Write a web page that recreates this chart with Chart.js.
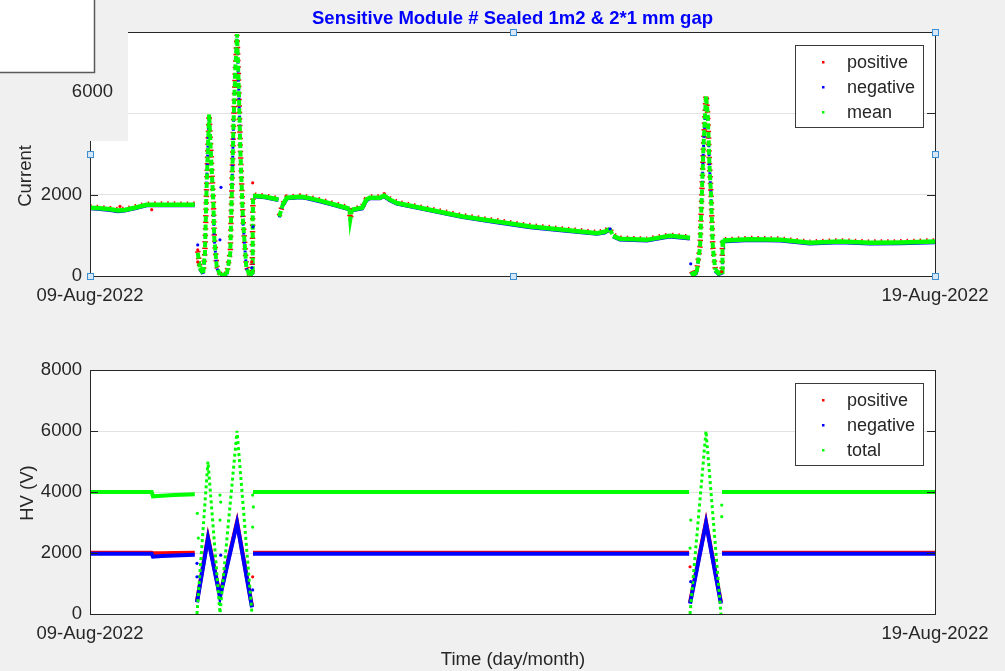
<!DOCTYPE html>
<html>
<head>
<meta charset="utf-8">
<script src="https://cdn.jsdelivr.net/npm/chart.js@4/dist/chart.umd.min.js"></script>
<style>
  html, body { margin: 0; padding: 0; background: #f0f0f0; width: 1005px; height: 671px; overflow: hidden; }
  canvas { position: absolute; left: 0; }
  #cur { top: 0; }
  #hv { top: 330px; }
</style>
</head>
<body>
<canvas id="cur" width="1005" height="330"></canvas>
<canvas id="hv" width="1005" height="341"></canvas>
<script>
// ---- time axis: days since 09-Aug-2022 00:00 ----
const dateTickPos = [0, 10];
const dateTicks = ['09-Aug-2022', '19-Aug-2022'];
const curTicks = [0, 2000, 4000, 6000];
const hvTicks = [0, 2000, 4000, 6000, 8000];

// ---- module current ----
const tCur = [
  0.00, 0.12, 0.24, 0.33, 0.41, 0.53, 0.67, 0.83, 1.01, 1.24, 1.25,
  1.275, 1.30, 1.34, 1.36, 1.38, 1.40, 1.41, 1.43, 1.46, 1.47, 1.50, 1.54, 1.58,
  1.62, 1.66, 1.68, 1.70, 1.72, 1.74, 1.76, 1.78, 1.81, 1.85, 1.89, 1.92, 1.925,
  1.93, 2.07, 2.23, 2.235, 2.24, 2.28, 2.33, 2.49, 2.57, 2.72, 2.90, 3.07, 3.08,
  3.10, 3.22, 3.27, 3.31, 3.43, 3.48, 3.55, 3.63, 4.02, 4.41, 4.81, 5.21, 5.60,
  6.00, 6.09, 6.15, 6.19, 6.27, 6.59, 6.86, 7.10, 7.105,
  7.12, 7.14, 7.18, 7.22, 7.24, 7.26, 7.28, 7.29, 7.31, 7.33, 7.35, 7.37, 7.40,
  7.44, 7.48, 7.485,
  7.49, 7.81, 8.17, 8.52, 8.88, 9.23, 9.59, 10.0
];
const curMean = [
  1680, 1665, 1640, 1610, 1625, 1680, 1750, 1755, 1755, 1750, null,
  570, 200, 75, 570, 2200, 3430, 3975, 3040, 1800, 960, 220, 25, 25,
  50, 570, 2200, 3850, 5090, 5950, 4670, 3040, 1380, 220, 0, 100, 1380,
  1975, 1950, 1880, null, 1460, 1750, 1926, 1950, 1926, 1852, 1753, 1654, 1383,
  1630, 1679, 1877, 1926, 1926, 1975, 1877, 1795, 1630, 1465, 1341, 1218, 1136,
  1054, 1086, 1160, 988, 914, 889, 988, 938, null,
  105, 25, 100, 720, 1960, 3190, 4020, 4430, 4020, 2790, 1960, 720, 150,
  65, 100, 889,
  870, 905, 889, 815, 847, 815, 822, 847
];
const curPos = [
  1700, 1680, 1655, 1625, 1640, 1695, 1765, 1770, 1768, 1765, null,
  610, 230, 90, 600, 2160, 3400, 3960, 3080, 1840, 1000, 240, 40, 35,
  60, 600, 2240, 3820, 5060, 5930, 4700, 3080, 1420, 250, 15, 120, 1400,
  1990, 1965, 1895, null, 1480, 1765, 1940, 1965, 1940, 1868, 1770, 1670, 1400,
  1645, 1695, 1892, 1940, 1942, 1990, 1893, 1812, 1646, 1482, 1358, 1235, 1153,
  1070, 1102, 1176, 1005, 930, 906, 1004, 955, null,
  120, 35, 115, 740, 1990, 3210, 4040, 4450, 4000, 2820, 1990, 750, 170,
  80, 120, 905,
  888, 922, 906, 832, 864, 832, 840, 864
];
const curNeg = [
  1665, 1650, 1625, 1595, 1610, 1665, 1738, 1742, 1742, 1738, null,
  540, 180, 60, 540, 2240, 3460, 3990, 3000, 1760, 930, 200, 15, 15,
  40, 540, 2160, 3880, 5120, 5970, 4640, 3000, 1350, 190, 0, 80, 1360,
  1960, 1935, 1865, null, 1440, 1735, 1912, 1935, 1912, 1836, 1737, 1638, 1366,
  1614, 1663, 1862, 1912, 1910, 1960, 1861, 1778, 1614, 1448, 1324, 1201, 1119,
  1038, 1070, 1144, 972, 898, 872, 972, 921, null,
  90, 15, 85, 700, 1930, 3170, 4000, 4410, 4040, 2760, 1930, 690, 130,
  50, 80, 873,
  852, 888, 872, 798, 830, 798, 805, 830
];
// isolated readings: [day, value]
const curPosOut = [[0.355, 1710], [0.73, 1630], [1.275, 640], [1.275, 345], [1.914, 345], [1.925, 2290], [7.476, 105]];
const curNegOut = [[1.275, 765], [1.538, 890], [1.55, 2180], [1.914, 200], [1.929, 1210], [6.154, 1160], [7.109, 300]];

// ---- high voltage ----
const tHV = [
  0.00, 0.73, 0.745, 0.85, 1.00, 1.24, 1.25,
  1.266, 1.396, 1.538, 1.740, 1.917, 1.922,
  1.929, 4.0, 7.09, 7.095,
  7.101, 7.290, 7.467, 7.473,
  7.479, 10.0
];
const hvTotal = [
  4000, 4000, 3860, 3880, 3900, 3930, null,
  0, 5000, 30, 6000, 0, null,
  4000, 4000, 4000, null,
  0, 6000, 0, null,
  4000, 4000
];
const hvPos = [
  2010, 2010, 1990, 1995, 2000, 2010, null,
  420, 2520, 600, 3020, 260, null,
  2010, 2010, 2010, null,
  380, 3020, 380, null,
  2010, 2010
];
const hvNeg = [
  1975, 1975, 1880, 1900, 1920, 1945, null,
  380, 2480, 560, 2980, 220, null,
  1975, 1975, 1975, null,
  340, 2980, 340, null,
  1975, 1975
];
const hvPosOut = [[7.101, 1550], [1.925, 1220]];
const hvNegOut = [[1.266, 1660], [1.266, 1220], [1.547, 1930], [1.925, 790], [7.109, 1060]];
const hvTotOut = [[1.270, 3300], [1.282, 2490], [1.538, 3900], [1.547, 3670], [1.538, 3080], [1.925, 3900],
                  [1.933, 3510], [1.925, 2850], [7.101, 2160], [7.109, 3080], [7.476, 3570], [7.476, 3190]];

const curLegend = ['positive', 'negative', 'mean'];
const hvLegend = ['positive', 'negative', 'total'];
const RED = '#ff0000', BLUE = '#0000ff', GREEN = '#00ff00', INK = '#262626';
const FAMILY = '"Liberation Sans", Arial, Helvetica, sans-serif';

const pts = (ts, vs) => ts.map((t, i) => ({ x: t, y: vs[i] }));
const pairs = arr => arr.map(([x, y]) => ({ x, y }));

// steep parts of a trace (fast ramps) are drawn broken, like sparse samples
function steep(dash, width) {
  const isSteep = c => {
    const dx = Math.abs(c.p1.x - c.p0.x), dy = Math.abs(c.p1.y - c.p0.y);
    return dy > 6 && dy > 2 * dx;
  };
  return {
    borderDash: c => (isSteep(c) ? dash : undefined),
    borderWidth: c => (isSteep(c) ? width : undefined)
  };
}

function lineSet(label, data, color, width, order, extra) {
  return Object.assign({
    label, data, borderColor: color, backgroundColor: color, borderWidth: width,
    pointRadius: 0, tension: 0, spanGaps: false, order
  }, extra || {});
}
function dotSet(label, data, color) {
  return {
    label, data, showLine: false, pointRadius: 1.6, pointBorderWidth: 0,
    pointBackgroundColor: color, borderColor: color, order: 0
  };
}

// axes box, inner ticks, legend, titles
const frame = {
  id: 'frame',
  beforeDraw(chart) {
    const { ctx, chartArea: a } = chart;
    ctx.save();
    ctx.fillStyle = '#ffffff';
    ctx.fillRect(a.left, a.top, a.right - a.left, a.bottom - a.top);
    ctx.restore();
  },
  afterDraw(chart, args, o) {
    const { ctx, chartArea: a, scales } = chart;
    ctx.save();
    ctx.strokeStyle = INK;
    ctx.lineWidth = 1;
    ctx.strokeRect(a.left + 0.5, a.top + 0.5, a.right - a.left, a.bottom - a.top);
    ctx.beginPath();
    scales.y.ticks.forEach(t => {
      const py = Math.round(scales.y.getPixelForValue(t.value)) + 0.5;
      ctx.moveTo(a.left, py); ctx.lineTo(a.left + 8, py);
      ctx.moveTo(a.right, py); ctx.lineTo(a.right - 8, py);
    });
    ctx.stroke();

    // legend
    const w = 128, h = 82;
    const x0 = Math.round(a.right - 12 - w), y0 = Math.round(a.top + 13);
    ctx.fillStyle = '#ffffff';
    ctx.fillRect(x0, y0, w, h);
    ctx.strokeStyle = '#3a3a3a';
    ctx.strokeRect(x0 + 0.5, y0 + 0.5, w, h);
    ctx.font = `18px ${FAMILY}`;
    ctx.textAlign = 'left';
    ctx.textBaseline = 'alphabetic';
    o.legend.forEach((it, i) => {
      const ry = y0 + 17 + i * 25;
      ctx.fillStyle = it.color;
      ctx.fillRect(x0 + 27, ry - 1, 2.5, 2.5);
      ctx.fillStyle = INK;
      ctx.fillText(it.label, x0 + 52, ry + 5.5);
    });

    // axis titles
    ctx.fillStyle = INK;
    ctx.font = `18.5px ${FAMILY}`;
    if (o.yTitle) {
      ctx.save();
      ctx.translate(o.yTitle.x, o.yTitle.y);
      ctx.rotate(-Math.PI / 2);
      ctx.textAlign = 'center';
      ctx.textBaseline = 'middle';
      ctx.fillText(o.yTitle.text, 0, 0);
      ctx.restore();
    }
    if (o.xTitle) {
      ctx.textAlign = 'center';
      ctx.textBaseline = 'middle';
      ctx.fillText(o.xTitle.text, o.xTitle.x, o.xTitle.y);
    }
    if (o.title) {
      ctx.fillStyle = '#0000ff';
      ctx.font = `bold 18.5px ${FAMILY}`;
      ctx.textAlign = 'center';
      ctx.textBaseline = 'alphabetic';
      ctx.fillText(o.title, (a.left + a.right) / 2, 24);
    }

    // selection handles on the active axes
    if (o.handles) {
      const xs = [a.left, (a.left + a.right) / 2, a.right];
      const ys = [a.top, (a.top + a.bottom) / 2, a.bottom];
      ctx.lineWidth = 1;
      xs.forEach((hx, i) => ys.forEach((hy, j) => {
        if (i === 1 && j === 1) return;
        const rx = Math.round(hx) - 3, ry = Math.round(hy) - 3;
        ctx.fillStyle = '#d6e8f7';
        ctx.fillRect(rx, ry, 7, 7);
        ctx.strokeStyle = '#3d8fd1';
        ctx.strokeRect(rx + 0.5, ry + 0.5, 6, 6);
      }));
    }

    // stray window patch over the top-left corner
    if (o.patch) {
      ctx.fillStyle = '#f0f0f0';
      ctx.fillRect(0, 0, 128, 141);
      ctx.fillStyle = '#ffffff';
      ctx.fillRect(0, 0, 95, 73);
      ctx.strokeStyle = '#5a5a5a';
      ctx.lineWidth = 1.5;
      ctx.beginPath();
      ctx.moveTo(94.5, 0); ctx.lineTo(94.5, 72.5); ctx.lineTo(0, 72.5);
      ctx.stroke();
      ctx.fillStyle = INK;
      ctx.font = `18.5px ${FAMILY}`;
      ctx.textAlign = 'right';
      ctx.textBaseline = 'middle';
      ctx.fillText(o.patch, 113, 92);
    }
    ctx.restore();
  }
};

function axes(yTicks, yMax) {
  return {
    x: {
      type: 'linear', min: dateTickPos[0], max: dateTickPos[dateTickPos.length - 1],
      afterBuildTicks: s => { s.ticks = dateTickPos.map(v => ({ value: v })); },
      afterFit: s => { s.height = 40; },
      grid: { display: false, drawTicks: false },
      border: { display: false },
      ticks: {
        autoSkip: false, maxRotation: 0, padding: 9, color: INK,
        font: { family: FAMILY, size: 18.5 },
        callback: v => dateTicks[dateTickPos.indexOf(v)]
      }
    },
    y: {
      type: 'linear', min: 0, max: yMax,
      afterBuildTicks: s => { s.ticks = yTicks.map(v => ({ value: v })); },
      afterFit: s => { s.width = 90; },
      grid: { color: '#e2e2e2', lineWidth: 1, drawTicks: false },
      border: { display: false },
      ticks: {
        padding: 8, color: INK, font: { family: FAMILY, size: 18.5 },
        callback: v => String(v)
      }
    }
  };
}

const common = {
  responsive: false, animation: false, events: [], devicePixelRatio: 1
};

new Chart(document.getElementById('cur'), {
  type: 'line',
  data: {
    datasets: [
      dotSet('positive', pairs(curPosOut), RED),
      dotSet('negative', pairs(curNegOut), BLUE),
      lineSet('mean', pts(tCur, curMean), GREEN, 4.5, 1, { segment: steep([6, 2.5], 4) }),
      lineSet('negative', pts(tCur, curNeg), BLUE, 4, 2, { segment: steep([2, 7], 3) }),
      lineSet('positive', pts(tCur, curPos), RED, 5.5, 3, { borderDash: [1.5, 5] })
    ]
  },
  options: Object.assign({}, common, {
    layout: { padding: { left: 0, right: 70, top: 32, bottom: 14 } },
    scales: axes(curTicks, 6000),
    plugins: {
      legend: { display: false }, tooltip: { enabled: false },
      frame: {
        legend: curLegend.map((l, i) => ({ label: l, color: [RED, BLUE, GREEN][i] })),
        title: 'Sensitive Module # Sealed 1m2 & 2*1 mm gap',
        yTitle: { text: 'Current', x: 26, y: 176 },
        handles: true,
        patch: String(curTicks[3])
      }
    }
  }),
  plugins: [frame]
});

new Chart(document.getElementById('hv'), {
  type: 'line',
  data: {
    datasets: [
      dotSet('positive', pairs(hvPosOut), RED),
      dotSet('negative', pairs(hvNegOut), BLUE),
      dotSet('total', pairs(hvTotOut), GREEN),
      lineSet('total', pts(tHV, hvTotal), GREEN, 4, 1, { segment: steep([3, 3], 3) }),
      lineSet('negative', pts(tHV, hvNeg), BLUE, 4, 2),
      lineSet('positive', pts(tHV, hvPos), RED, 4, 3)
    ]
  },
  options: Object.assign({}, common, {
    layout: { padding: { left: 0, right: 70, top: 40, bottom: 17 } },
    scales: axes(hvTicks, 8000),
    plugins: {
      legend: { display: false }, tooltip: { enabled: false },
      frame: {
        legend: hvLegend.map((l, i) => ({ label: l, color: [RED, BLUE, GREEN][i] })),
        yTitle: { text: 'HV (V)', x: 28, y: 163 },
        xTitle: { text: 'Time (day/month)', x: 513, y: 330 }
      }
    }
  }),
  plugins: [frame]
});
</script>
</body>
</html>
